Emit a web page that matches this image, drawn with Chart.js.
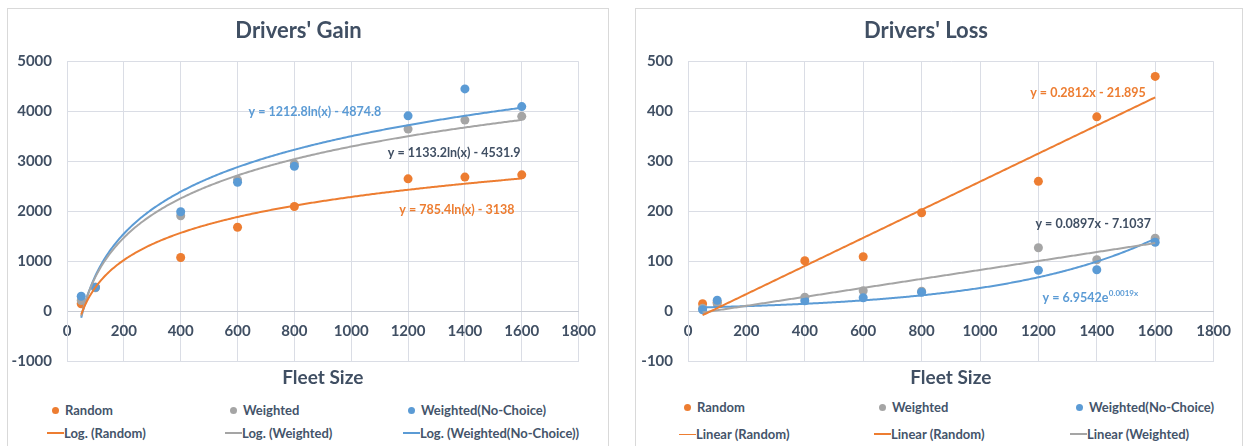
<!DOCTYPE html>
<html>
<head>
<meta charset="utf-8">
<script src="https://cdn.jsdelivr.net/npm/chart.js@4"></script>
<style>
  body { margin: 0; background: #fff; width: 1243px; height: 446px; overflow: hidden; position: relative; font-family: Lato, "Open Sans", sans-serif; }
  .panel { position: absolute; border: 1px solid #d9d9d9; border-bottom: none; }
  .panel canvas { position: absolute; left: 0; top: 0; }
  .lg { position: absolute; font: bold 13px Lato, sans-serif; color: #44546a; white-space: nowrap; line-height: 16px; }
  .dot { position: absolute; width: 7px; height: 7px; border-radius: 50%; }
  .ln { position: absolute; height: 2px; }
</style>
</head>
<body>
<div class="panel" style="left:7px;top:8px;width:600px;height:440px;">
  <canvas id="gainChart" width="599" height="386"></canvas>
</div>
<div class="panel" style="left:635px;top:8px;width:606px;height:440px;">
  <canvas id="lossChart" width="606" height="386"></canvas>
</div>
<div id="legends"></div>
<script>
// Fleet sizes tested
const fleetSizes = [50, 100, 400, 600, 800, 1200, 1400, 1600];

// Drivers' gain per strategy
const gainRandom = [150, 480, 1075, 1680, 2095, 2650, 2685, 2730];
const gainWeighted = [215, 470, 1910, 2630, 2950, 3645, 3825, 3900];
const gainNoChoice = [300, 480, 1990, 2580, 2900, 3910, 4450, 4095];

// Drivers' loss per strategy
const lossRandom = [15, 18, 101, 109, 197, 260, 389, 470];
const lossWeighted = [6, 15, 28, 41, 40, 127, 103, 146];
const lossNoChoice = [3, 22, 21, 27, 38, 82, 83, 138];

// Trendline coefficients, as printed on the charts
const gainRandomLog = [785.4, -3138];
const gainWeightedLog = [1133.2, -4531.9];
const gainNoChoiceLog = [1212.8, -4874.8];
const lossRandomLin = [0.2812, -21.895];
const lossWeightedLin = [0.0897, -7.1037];
const lossNoChoiceExp = [6.9542, 0.0019];

const xTicks = [0, 200, 400, 600, 800, 1000, 1200, 1400, 1600, 1800];

const ORANGE = '#ed7d31', GRAY = '#a5a5a5', BLUE = '#5b9bd5';
const TEXT = '#404f63', GRID = '#dadde5';

function pts(ys) {
  return fleetSizes.map((x, i) => ({ x, y: ys[i] }));
}

function curve(fn) {
  const out = [];
  for (let x = fleetSizes[0]; x <= fleetSizes[fleetSizes.length - 1]; x += 5) {
    out.push({ x, y: fn(x) });
  }
  return out;
}

function scatterSet(label, ys, color, order) {
  return { label, data: pts(ys), backgroundColor: color, borderColor: color,
    pointRadius: 4.5, pointBorderWidth: 0, showLine: false, order };
}

function trendSet(label, data, color) {
  return { label, data, borderColor: color, borderWidth: 2, pointRadius: 0,
    showLine: true, tension: 0, order: 0 };
}

// Writes the trendline equations next to their curves
const fitLabels = {
  id: 'fitLabels',
  afterDatasetsDraw(chart, args, opts) {
    const ctx = chart.ctx;
    const xs = chart.scales.x, ys = chart.scales.y;
    ctx.save();
    ctx.textBaseline = 'middle';
    opts.items.forEach(it => {
      const px = xs.getPixelForValue(it.x);
      const py = ys.getPixelForValue(it.y);
      ctx.font = 'bold 12.5px Lato, sans-serif';
      const w1 = ctx.measureText(it.text).width;
      let w2 = 0;
      if (it.sup) {
        ctx.font = 'bold 8px Lato, sans-serif';
        w2 = ctx.measureText(it.sup).width;
      }
      const left = px - (w1 + w2) / 2;
      ctx.fillStyle = it.color;
      ctx.textAlign = 'left';
      ctx.font = 'bold 12.5px Lato, sans-serif';
      ctx.fillText(it.text, left, py);
      if (it.sup) {
        ctx.font = 'bold 8px Lato, sans-serif';
        ctx.fillText(it.sup, left + w1 + 0.5, py - 5);
      }
    });
    ctx.restore();
  }
};

function makeChart(id, title, yMin, yMax, yStep, datasets, labels, padRight, yWidth) {
  return new Chart(document.getElementById(id), {
    type: 'scatter',
    data: { datasets },
    plugins: [fitLabels],
    options: {
      responsive: false,
      animation: false,
      layout: { padding: { left: 0, right: padRight, top: 0, bottom: 0 } },
      plugins: {
        legend: { display: false },
        tooltip: { enabled: false },
        title: {
          display: true, text: title, color: TEXT,
          font: { family: 'Lato', size: 22, weight: 'bold' },
          padding: { top: 9, bottom: 17 }
        },
        fitLabels: { items: labels }
      },
      scales: {
        x: {
          type: 'linear', position: 'bottom', min: 0, max: 1800,
          afterBuildTicks: s => { s.ticks = xTicks.map(v => ({ value: v })); },
          ticks: { display: false },
          grid: { color: GRID, drawTicks: false },
          border: { color: GRID },
          title: {
            display: true, text: 'Fleet Size', color: TEXT,
            font: { family: 'Lato', size: 19, weight: 'bold' },
            padding: { top: 5, bottom: 6 }
          }
        },
        xZero: {
          type: 'linear', position: { y: 0 }, min: 0, max: 1800,
          afterBuildTicks: s => { s.ticks = xTicks.map(v => ({ value: v })); },
          grid: { display: false, drawTicks: false },
          border: { color: '#c8ccd4', width: 1 },
          ticks: {
            color: TEXT, padding: 11, maxRotation: 0, autoSkip: false,
            font: { family: 'Lato', size: 15, weight: 'bold' },
            callback: v => String(v)
          }
        },
        y: {
          type: 'linear', min: yMin, max: yMax,
          afterFit: s => { s.width = yWidth; },
          ticks: {
            stepSize: yStep, color: TEXT, padding: 15,
            font: { family: 'Lato', size: 15, weight: 'bold' },
            callback: v => String(v)
          },
          grid: { color: GRID, drawTicks: false },
          border: { color: GRID }
        }
      }
    }
  });
}

makeChart('gainChart', "Drivers' Gain", -1000, 5000, 1000, [
  trendSet('Log. (Random)', curve(x => gainRandomLog[0] * Math.log(x) + gainRandomLog[1]), ORANGE),
  trendSet('Log. (Weighted)', curve(x => gainWeightedLog[0] * Math.log(x) + gainWeightedLog[1]), GRAY),
  trendSet('Log. (Weighted(No-Choice))', curve(x => gainNoChoiceLog[0] * Math.log(x) + gainNoChoiceLog[1]), BLUE),
  scatterSet('Random', gainRandom, ORANGE, 3),
  scatterSet('Weighted', gainWeighted, GRAY, 2),
  scatterSet('Weighted(No-Choice)', gainNoChoice, BLUE, 1)
], [
  { text: 'y = 1212.8ln(x) - 4874.8', x: 872, y: 3980, color: BLUE },
  { text: 'y = 1133.2ln(x) - 4531.9', x: 1362, y: 3160, color: TEXT },
  { text: 'y = 785.4ln(x) - 3138', x: 1372, y: 2020, color: ORANGE }
], 18, 59);

makeChart('lossChart', "Drivers' Loss", -100, 500, 100, [
  trendSet('Linear (Random)', curve(x => lossRandomLin[0] * x + lossRandomLin[1]), ORANGE),
  trendSet('Linear (Weighted)', curve(x => lossWeightedLin[0] * x + lossWeightedLin[1]), GRAY),
  trendSet('Expon. (Weighted(No-Choice))', curve(x => lossNoChoiceExp[0] * Math.exp(lossNoChoiceExp[1] * x)), BLUE),
  scatterSet('Random', lossRandom, ORANGE, 3),
  scatterSet('Weighted', lossWeighted, GRAY, 2),
  scatterSet('Weighted(No-Choice)', lossNoChoice, BLUE, 1)
], [
  { text: 'y = 0.2812x - 21.895', x: 1370, y: 436, color: ORANGE },
  { text: 'y = 0.0897x - 7.1037', x: 1388, y: 174, color: TEXT },
  { text: 'y = 6.9542e', sup: '0.0019x', x: 1377, y: 26, color: BLUE }
], 26, 52);

// Legend rows under each chart
const legendItems = [
  { kind: 'dot', color: ORANGE, x: 55, y: 410, text: 'Random' },
  { kind: 'dot', color: GRAY, x: 233, y: 410, text: 'Weighted' },
  { kind: 'dot', color: BLUE, x: 411, y: 410, text: 'Weighted(No-Choice)' },
  { kind: 'line', color: ORANGE, x: 47, y: 433, text: 'Log. (Random)', w: 2 },
  { kind: 'line', color: GRAY, x: 225, y: 433, text: 'Log. (Weighted)', w: 2 },
  { kind: 'line', color: BLUE, x: 403, y: 433, text: 'Log. (Weighted(No-Choice))', w: 2 },
  { kind: 'dot', color: ORANGE, x: 687, y: 407, text: 'Random' },
  { kind: 'dot', color: GRAY, x: 882, y: 407, text: 'Weighted' },
  { kind: 'dot', color: BLUE, x: 1079, y: 407, text: 'Weighted(No-Choice)' },
  { kind: 'line', color: ORANGE, x: 679, y: 434, text: 'Linear (Random)', w: 1 },
  { kind: 'line', color: ORANGE, x: 874, y: 434, text: 'Linear (Random)', w: 2.5 },
  { kind: 'line', color: GRAY, x: 1070, y: 434, text: 'Linear (Weighted)', w: 2 }
];

const box = document.getElementById('legends');
legendItems.forEach(it => {
  const mark = document.createElement('div');
  const label = document.createElement('div');
  label.className = 'lg';
  label.textContent = it.text;
  if (it.kind === 'dot') {
    mark.className = 'dot';
    mark.style.left = (it.x - 3.5) + 'px';
    mark.style.top = (it.y - 3.5) + 'px';
    label.style.left = (it.x + 10) + 'px';
  } else {
    mark.className = 'ln';
    mark.style.left = it.x + 'px';
    mark.style.width = '17px';
    mark.style.height = it.w + 'px';
    mark.style.top = (it.y - it.w / 2) + 'px';
    label.style.left = (it.x + 17) + 'px';
  }
  mark.style.background = it.color;
  label.style.top = (it.y - 8) + 'px';
  box.appendChild(mark);
  box.appendChild(label);
});
</script>
</body>
</html>
